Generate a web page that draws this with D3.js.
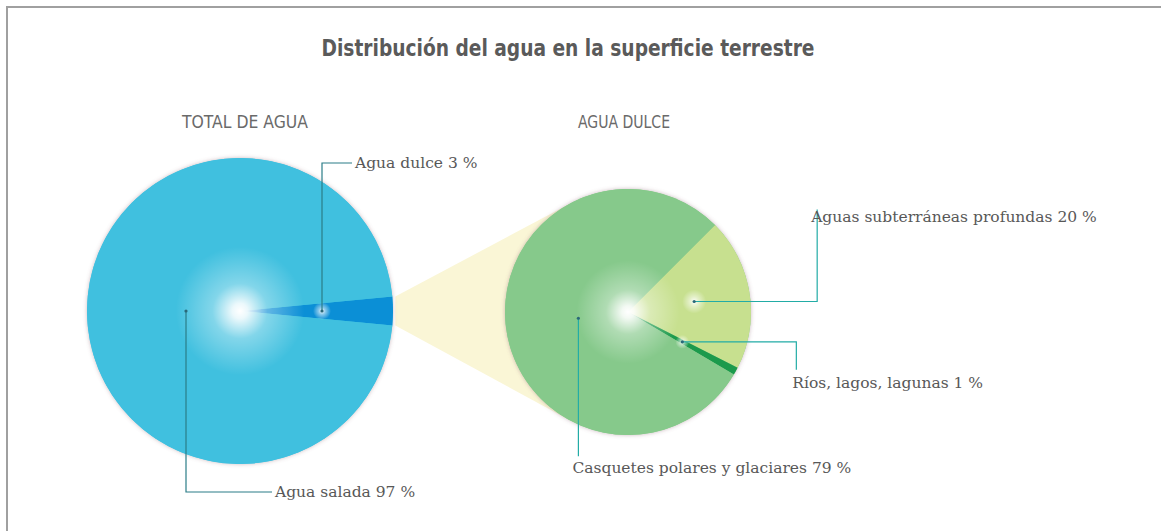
<!DOCTYPE html>
<html>
<head>
<meta charset="utf-8">
<script src="https://cdn.jsdelivr.net/npm/d3@7"></script>
<style>
  body { margin: 0; background: #fff; }
  svg { display: block; }
  .title { font-family: "Liberation Sans Narrow", "DejaVu Sans Condensed", "Roboto", sans-serif; font-weight: bold; fill: #5a5a5a; }
  .subtitle { font-family: "Liberation Sans Narrow", "DejaVu Sans Condensed", "Roboto", sans-serif; fill: #6a6a6a; }
  .label { font-family: "DejaVu Serif", serif; fill: #585858; font-size: 15.5px; }
</style>
</head>
<body>
<svg width="1161" height="531"></svg>
<script>
// datos
const totalLabels = ['Agua dulce', 'Agua salada'];
const totalValues = [3, 97];
const dulceLabels = ['Aguas subterráneas profundas', 'Ríos, lagos, lagunas', 'Casquetes polares y glaciares'];
const dulceValues = [20, 1, 79];

const svg = d3.select('svg');
const width = +svg.attr('width');
const height = +svg.attr('height');

const defs = svg.append('defs');

// brillo blanco en el centro de cada torta
const glow = defs.append('radialGradient').attr('id', 'glow');
[[0, 1], [0.05, 0.9], [0.18, 0.35], [0.42, 0]].forEach(([o, a]) =>
  glow.append('stop').attr('offset', o).attr('stop-color', '#fff').attr('stop-opacity', a));

const spot = defs.append('radialGradient').attr('id', 'spot');
[[0, 0.95], [0.4, 0.5], [1, 0]].forEach(([o, a]) =>
  spot.append('stop').attr('offset', o).attr('stop-color', '#fff').attr('stop-opacity', a));

defs.append('filter').attr('id', 'halo')
  .attr('x', -0.1).attr('y', -0.1).attr('width', 1.2).attr('height', 1.2)
  .append('feDropShadow')
  .attr('dx', 0).attr('dy', 0).attr('stdDeviation', 2)
  .attr('flood-color', '#8a6470').attr('flood-opacity', 0.45);

// marco
svg.append('path')
  .attr('d', `M7,${height} V7 H${width}`)
  .attr('fill', 'none')
  .attr('stroke', '#a0a0a0')
  .attr('stroke-width', 2);

svg.append('text')
  .attr('class', 'title')
  .attr('x', 568).attr('y', 56)
  .attr('text-anchor', 'middle')
  .attr('font-size', 23)
  .attr('textLength', 493).attr('lengthAdjust', 'spacingAndGlyphs')
  .text('Distribución del agua en la superficie terrestre');

svg.append('text')
  .attr('class', 'subtitle')
  .attr('x', 182).attr('y', 128)
  .attr('font-size', 17)
  .attr('textLength', 126).attr('lengthAdjust', 'spacingAndGlyphs')
  .text('TOTAL DE AGUA');

svg.append('text')
  .attr('class', 'subtitle')
  .attr('x', 578).attr('y', 128)
  .attr('font-size', 17)
  .attr('textLength', 92).attr('lengthAdjust', 'spacingAndGlyphs')
  .text('AGUA DULCE');

const left = { cx: 240, cy: 311, r: 153 };
const right = { cx: 628, cy: 312, r: 123 };

// torta izquierda: agua dulce centrada a la derecha (90 grados)
const totalStart = Math.PI / 2 - Math.PI * totalValues[0] / d3.sum(totalValues);
const pieTotal = d3.pie().sort(null).value(d => d)
  .startAngle(totalStart).endAngle(totalStart + 2 * Math.PI);
const dulceStart = Math.PI / 4;
const pieDulce = d3.pie().sort(null).value(d => d)
  .startAngle(dulceStart).endAngle(dulceStart + 2 * Math.PI);

const arcsTotal = pieTotal(totalValues);
const arcsDulce = pieDulce(dulceValues);

// cono amarillo que une la porcion de agua dulce con la segunda torta
const dulceArc = arcsTotal[0];
const p1 = [left.cx + left.r * Math.sin(dulceArc.startAngle) + 3, left.cy - left.r * Math.cos(dulceArc.startAngle)];
const p2 = [left.cx + left.r * Math.sin(dulceArc.endAngle) + 3, left.cy - left.r * Math.cos(dulceArc.endAngle)];
const tangent = (p, sign) => {
  const dx = p[0] - right.cx, dy = p[1] - right.cy;
  const d = Math.hypot(dx, dy);
  const base = Math.atan2(dy, dx);
  const a = base + sign * Math.acos(right.r / d);
  return [right.cx + right.r * Math.cos(a), right.cy + right.r * Math.sin(a)];
};
svg.append('path')
  .attr('d', d3.line()([p1, tangent(p1, 1), [right.cx, right.cy], tangent(p2, -1), p2]) + 'Z')
  .attr('fill', '#faf6d6');

const totalColors = ['#0b8fd6', '#40c0df'];
const dulceColors = ['#c7e08f', '#1c9a4c', '#86c98b'];

const drawPie = (pos, arcs, colors) => {
  const g = svg.append('g').attr('transform', `translate(${pos.cx},${pos.cy})`);
  const arc = d3.arc().innerRadius(0).outerRadius(pos.r);
  g.append('circle').attr('r', pos.r).attr('fill', colors[colors.length - 1])
    .attr('filter', 'url(#halo)');
  g.selectAll('path').data(arcs).enter().append('path')
    .attr('d', arc)
    .attr('fill', (d, i) => colors[i]);
  g.append('circle').attr('r', pos.r).attr('fill', 'url(#glow)');
  return g;
};

const gLeft = drawPie(left, arcsTotal, totalColors);
const gRight = drawPie(right, arcsDulce, dulceColors);

// etiquetas con lineas guia: punto -> codo -> extremo, texto relativo al extremo
const leftLabels = [
  { rad: 82, spot: 9, turn: [0, -148], end: [30, 0], tx: 3, ty: 5 },
  { rad: 54, spot: 0, turn: [0, 181], end: [86, 0], tx: 3, ty: 5 }
];
const rightLabels = [
  { rad: 67, spot: 12, turn: [123, 0], end: [0, -92], tx: -6, ty: 12 },
  { rad: 62, spot: 7, turn: [114, 0], end: [0, 28], tx: -4, ty: 18 },
  { rad: 50, spot: 0, turn: [0, 138], end: [0, 0], tx: -6, ty: 17 }
];

const drawLabels = (g, arcs, labels, values, cfg, color) => {
  arcs.forEach((a, i) => {
    const c = cfg[i];
    const mid = (a.startAngle + a.endAngle) / 2;
    const pt = [c.rad * Math.sin(mid), -c.rad * Math.cos(mid)];
    if (c.spot) {
      g.append('circle').attr('cx', pt[0]).attr('cy', pt[1]).attr('r', c.spot).attr('fill', 'url(#spot)');
    }
    const q2 = [pt[0] + c.turn[0], pt[1] + c.turn[1]];
    const q3 = [q2[0] + c.end[0], q2[1] + c.end[1]];
    g.append('path')
      .attr('d', d3.line()([pt, q2, q3]))
      .attr('fill', 'none').attr('stroke', color).attr('stroke-width', 1.2);
    g.append('circle').attr('cx', pt[0]).attr('cy', pt[1]).attr('r', 1.6).attr('fill', '#2a6878');
    g.append('text')
      .attr('class', 'label')
      .attr('x', q3[0] + c.tx).attr('y', q3[1] + c.ty)
      .text(`${labels[i]} ${values[i]} %`);
  });
};

drawLabels(gLeft, arcsTotal, totalLabels, totalValues, leftLabels, '#2b7d88');
drawLabels(gRight, arcsDulce, dulceLabels, dulceValues, rightLabels, '#22aca6');
</script>
</body>
</html>
